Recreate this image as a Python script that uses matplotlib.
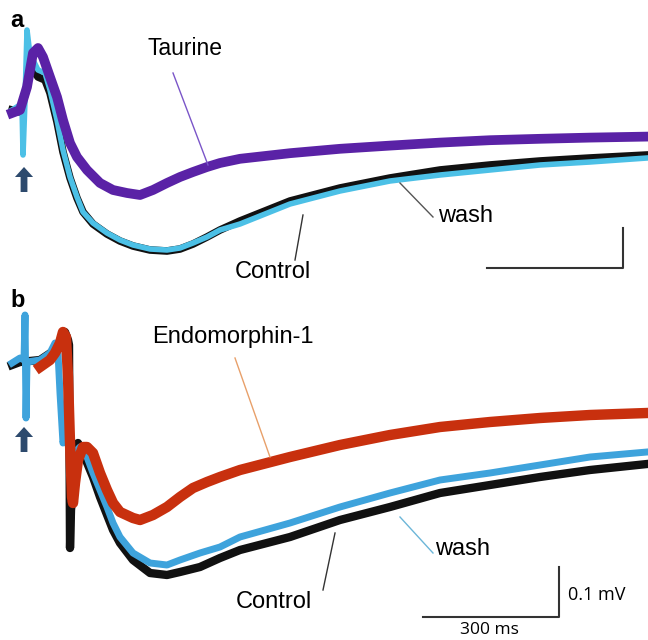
import matplotlib.pyplot as plt

plt.rcParams['font.family'] = ['Liberation Sans', 'DejaVu Sans']

# ---- panel a (time in ms, potential in mV) ----
a_purple_t = [-23.5, -5.9, 9.6, 22.8, 33.9, 44.9, 60.3, 75.8, 89, 104.5, 119.9, 142, 170.7, 199.4, 230.3, 259, 287.6, 318.5, 347.2, 375.9, 406.8, 435.5, 479.6, 590, 700.3, 810.6, 921, 1031.3, 1141.7, 1252, 1378]
a_purple_v = [-0.0075, 0, 0.0575, 0.1425, 0.155, 0.1325, 0.0825, 0.0325, -0.025, -0.0825, -0.1175, -0.15, -0.1825, -0.2, -0.2075, -0.2125, -0.2, -0.1825, -0.1675, -0.155, -0.1425, -0.1325, -0.122, -0.108, -0.097, -0.089, -0.0815, -0.0755, -0.072, -0.069, -0.0665]

a_black_t = [-23.5, -5.9, 0.8, 5.2, 14, 22.8, 33.9, 49.3, 60.3, 75.8, 89, 104.5, 119.9, 133.2, 155.2, 186.1, 214.8, 243.5, 281, 318.5, 347.2, 375.9, 406.8, 435.5, 479.6, 590, 700.3, 810.6, 921, 1031.3, 1141.7, 1252, 1378]
a_black_v = [0, -0.005, 0.025, 0.0375, 0.0875, 0.1, 0.0825, 0.075, 0.0425, -0.03, -0.105, -0.17, -0.22, -0.255, -0.285, -0.31, -0.3275, -0.34, -0.35, -0.3525, -0.3475, -0.335, -0.3175, -0.3, -0.2775, -0.2275, -0.195, -0.17, -0.15, -0.1375, -0.1275, -0.12, -0.1125]

a_cyan_t = [-23.5, -5.9, -1.4, 0.8, 5.2, 9.6, 16.2, 22.8, 33.9, 49.3, 60.3, 75.8, 89, 104.5, 119.9, 133.2, 155.2, 186.1, 214.8, 243.5, 281, 318.5, 347.2, 375.9, 406.8, 435.5, 479.6, 590, 700.3, 810.6, 921, 1031.3, 1141.7, 1252, 1378]
a_cyan_v = [0, 0.0125, 0.0075, -0.1125, 0.025, 0.2, 0.1375, 0.125, 0.1, 0.0925, 0.05, -0.025, -0.1, -0.1675, -0.2175, -0.255, -0.2825, -0.3075, -0.325, -0.3375, -0.3475, -0.35, -0.345, -0.3325, -0.3175, -0.3, -0.285, -0.235, -0.2025, -0.1775, -0.1625, -0.15, -0.1375, -0.13, -0.12]

# ---- panel b ----
b_black_t = [-23.5, -5.9, 38.3, 71.4, 86.8, 93.4, 100.1, 102.3, 104.5, 106.7, 115.5, 122.1, 133.2, 155.2, 170.7, 199.4, 214.8, 243.5, 281, 318.5, 347.2, 391.4, 435.5, 479.6, 590, 700.3, 810.6, 921, 1031.3, 1141.7, 1252, 1378]
b_black_v = [-0.004, 0.002, 0.006, 0.026, 0.05, 0.062, 0.046, 0.036, -0.37, -0.294, -0.214, -0.16, -0.18, -0.228, -0.268, -0.334, -0.36, -0.394, -0.42, -0.424, -0.418, -0.408, -0.39, -0.374, -0.348, -0.314, -0.288, -0.26, -0.244, -0.228, -0.214, -0.202]

b_cyan_t = [-23.5, -5.9, 3, 5.2, 7.4, 9.6, 38.3, 60.3, 71.4, 78, 82.4, 89, 95.6, 104.5, 108.9, 119.9, 126.5, 142, 155.2, 170.7, 186.1, 199.4, 214.8, 243.5, 281, 318.5, 347.2, 391.4, 435.5, 479.6, 590, 700.3, 810.6, 921, 1031.3, 1141.7, 1252, 1378]
b_cyan_v = [0, 0.01, 0.006, 0.096, -0.11, 0.002, 0.006, 0.02, 0.04, 0.02, -0.06, -0.16, -0.134, -0.188, -0.228, -0.174, -0.168, -0.188, -0.22, -0.254, -0.288, -0.32, -0.348, -0.38, -0.4, -0.404, -0.394, -0.38, -0.368, -0.348, -0.32, -0.288, -0.26, -0.234, -0.22, -0.204, -0.188, -0.178]

b_red_t = [38.3, 60.3, 71.4, 82.4, 89, 95.6, 100.1, 104.5, 108.9, 111.1, 115.5, 122.1, 133.2, 142, 155.2, 170.7, 186.1, 199.4, 214.8, 243.5, 259, 287.6, 318.5, 347.2, 375.9, 406.8, 435.5, 479.6, 590, 700.3, 810.6, 921, 1031.3, 1141.7, 1252, 1378]
b_red_v = [-0.008, 0.006, 0.02, 0.04, 0.062, 0.052, -0.028, -0.16, -0.268, -0.28, -0.24, -0.194, -0.168, -0.168, -0.18, -0.22, -0.254, -0.28, -0.298, -0.31, -0.314, -0.304, -0.288, -0.268, -0.25, -0.238, -0.228, -0.214, -0.188, -0.164, -0.144, -0.128, -0.118, -0.11, -0.104, -0.1]

arrow_col = '#2d4a6d'

fig = plt.figure(figsize=(6.48, 6.40), dpi=100)

# panel a
ax_a = fig.add_axes([0, 1 - 290 / 640, 1, 290 / 640])
ax_a.set_xlim(-50, 1380)
ax_a.set_ylim(-0.45, 0.275)
ax_a.axis('off')
ax_a.plot(a_black_t, a_black_v, color='#111111', lw=5.5, solid_joinstyle='round')
ax_a.plot(a_cyan_t, a_cyan_v, color='#4cc0e6', lw=4, solid_joinstyle='round')
ax_a.plot(a_purple_t, a_purple_v, color='#5a22a6', lw=7, solid_joinstyle='round')

ax_a.arrow(3, -0.205, 0, 0.0625, width=15, head_width=40, head_length=0.025,
           length_includes_head=True, color=arrow_col, lw=0)

ax_a.text(358, 0.1375, 'Taurine', fontsize=16.5, ha='center', va='baseline')
ax_a.plot([331.8, 409], [0.0925, -0.1375], color='#7a55c8', lw=1)
ax_a.text(916, -0.279, 'wash', fontsize=17, ha='left', va='baseline')
ax_a.plot([832.7, 905.5], [-0.1825, -0.2675], color='#555555', lw=1)
ax_a.text(553, -0.42, 'Control', fontsize=17, ha='center', va='baseline')
ax_a.plot([618.6, 601], [-0.2625, -0.375], color='#333333', lw=1)

# scale bar a
ax_a.plot([1025, 1325, 1325], [-0.395, -0.395, -0.295], color='#333333', lw=1.5)

# panel b
ax_b = fig.add_axes([0, 0, 1, 350 / 640])
ax_b.set_xlim(-50, 1380)
ax_b.set_ylim(-0.554, 0.146)
ax_b.axis('off')
ax_b.plot(b_black_t, b_black_v, color='#111111', lw=6, solid_joinstyle='round')
ax_b.plot(b_cyan_t, b_cyan_v, color='#3ea3dc', lw=5, solid_joinstyle='round')
ax_b.plot(b_red_t, b_red_v, color='#c8300e', lw=7.5, solid_joinstyle='round')

ax_b.arrow(3, -0.178, 0, 0.05, width=15, head_width=40, head_length=0.02,
           length_includes_head=True, color=arrow_col, lw=0)

ax_b.text(465, 0.04, 'Endomorphin-1', fontsize=17, ha='center', va='baseline')
ax_b.plot([468.6, 545.8], [0.01, -0.188], color='#e8a06a', lw=1)
ax_b.text(910, -0.384, 'wash', fontsize=17, ha='left', va='baseline')
ax_b.plot([832.7, 905.5], [-0.308, -0.38], color='#6cb6d8', lw=1)
ax_b.text(555, -0.49, 'Control', fontsize=17, ha='center', va='baseline')
ax_b.plot([689.3, 662.8], [-0.34, -0.454], color='#333333', lw=1)

# scale bar b
ax_b.plot([884, 1184, 1184], [-0.508, -0.508, -0.408], color='#333333', lw=1.5)
ax_b.text(1203, -0.474, '0.1 mV', fontsize=13, ha='left', va='baseline', family=['Open Sans', 'DejaVu Sans'])
ax_b.text(1029, -0.541, '300 ms', fontsize=12.5, ha='center', va='baseline', family=['Open Sans', 'DejaVu Sans'])

fig.text(10 / 648, 1 - 27 / 640, 'a', fontsize=17, fontweight='bold', ha='left', va='baseline')
fig.text(10 / 648, 1 - 307 / 640, 'b', fontsize=17, fontweight='bold', ha='left', va='baseline')

fig.savefig('out.png', dpi=100)
